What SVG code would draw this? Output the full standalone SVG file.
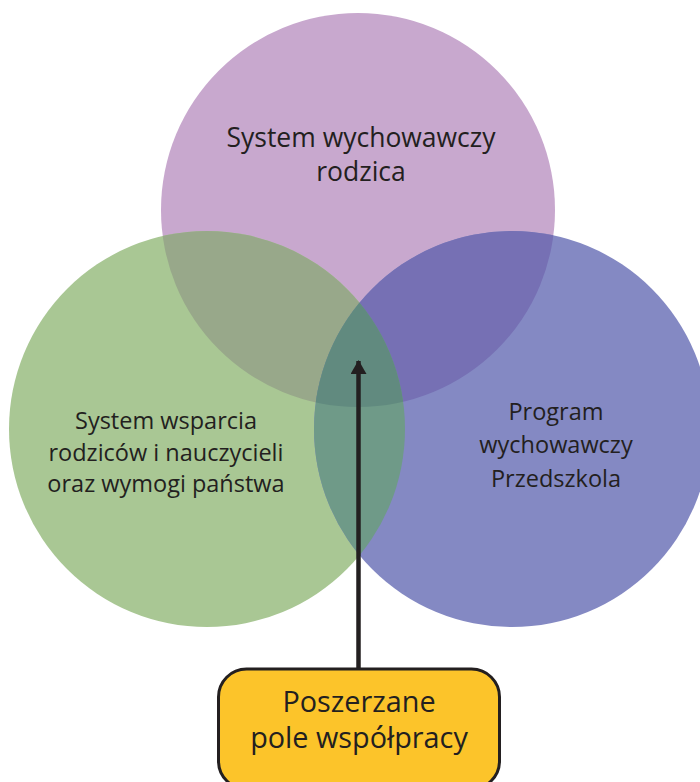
<svg xmlns="http://www.w3.org/2000/svg" width="700" height="782" viewBox="0 0 700 782">
<style>
.t{font-family:"Open Sans","Liberation Sans",sans-serif;fill:#231f20;text-anchor:middle}
.c{font-size:26.5px}
.s{font-size:23.5px}
.b{font-size:28.8px}
</style>
<defs>
<clipPath id="cpP"><circle cx="358" cy="210" r="197"/></clipPath>
<clipPath id="cpG"><circle cx="207" cy="429" r="198"/></clipPath>
<marker id="ah" viewBox="0 0 14 16" refX="13" refY="8" markerWidth="14" markerHeight="16" markerUnits="userSpaceOnUse" orient="auto"><path d="M0,0 L14,8 L0,16 Z" fill="#231f20"/></marker>
</defs>
<rect width="700" height="782" fill="#ffffff"/>
<g id="circle-parent">
<circle cx="358" cy="210" r="197" fill="#c8a8ce"/>
</g>
<g id="circle-state">
<circle cx="207" cy="429" r="198" fill="#a9c794"/>
</g>
<g id="circle-preschool">
<circle cx="512" cy="429" r="198" fill="#8489c3"/>
</g>
<g id="overlaps">
<circle cx="207" cy="429" r="198" fill="#98a88a" clip-path="url(#cpP)"/>
<circle cx="512" cy="429" r="198" fill="#7670b4" clip-path="url(#cpP)"/>
<circle cx="512" cy="429" r="198" fill="#6f9a88" clip-path="url(#cpG)"/>
<g clip-path="url(#cpP)"><circle cx="512" cy="429" r="198" fill="#618a7f" clip-path="url(#cpG)"/></g>
</g>
<g id="label-parent">
<text class="t c" x="361" y="147">System wychowawczy</text>
<text class="t c" x="361" y="181">rodzica</text>
</g>
<g id="label-state">
<text class="t s" x="166" y="429">System wsparcia</text>
<text class="t s" x="166" y="461">rodziców i nauczycieli</text>
<text class="t s" x="166" y="492">oraz wymogi państwa</text>
</g>
<g id="label-preschool">
<text class="t s" x="556" y="420">Program</text>
<text class="t s" x="556" y="453">wychowawczy</text>
<text class="t s" x="556" y="487">Przedszkola</text>
</g>
<g id="connectors">
<line x1="358.5" y1="670" x2="358.5" y2="361" stroke="#231f20" stroke-width="4.5" marker-end="url(#ah)"/>
</g>
<g id="box-cooperation">
<rect x="218.5" y="669" width="281" height="120" rx="28" fill="#fcc42a" stroke="#231f20" stroke-width="3"/>
<text class="t b" x="359" y="712">Poszerzane</text>
<text class="t b" x="359" y="748">pole współpracy</text>
</g>
</svg>
